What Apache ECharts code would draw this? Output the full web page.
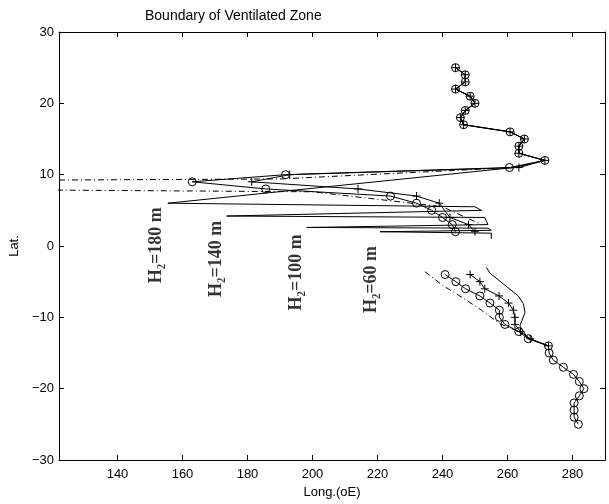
<!DOCTYPE html>
<html>
<head>
<meta charset="utf-8">
<script src="https://cdn.jsdelivr.net/npm/echarts@6/dist/echarts.min.js"></script>
<style>
  html, body { margin: 0; padding: 0; background: #fff; }
  #chart { width: 609px; height: 504px; }
</style>
</head>
<body>
<div id="chart"></div>
<script>
// tick labels
const xTicks = [140, 160, 180, 200, 220, 240, 260, 280];
const yTicks = [-30, -20, -10, 0, 10, 20, 30];

// shared northern track (lat 25 -> 12)
const northLon = [244, 247, 247, 244, 248.5, 250, 247, 245.5, 246.5, 260.8, 265.2, 263.5, 263.5, 271.5];
const northLat = [25, 24, 23, 22, 21, 20, 19, 18, 17, 16, 15, 14, 13, 12];

// circle track: westward loop, then southern branch
const circLoopLon = [260.6, 191.7, 163, 185.6, 224, 232, 236.7, 240, 243, 244];
const circLoopLat = [11, 10, 9, 8, 7, 6, 5, 4, 3, 2];
const circSouthLon = [240.8, 244.1, 247.1, 251.5, 254.6, 257.5, 257.5, 259.2, 263.5, 266.4, 272.6, 272.8, 274.1, 277.2, 280.3, 282.1, 283.5, 282.1, 280.5, 280.5, 280.5, 281.8];
const circSouthLat = [-4, -5, -6, -7, -8, -9, -10, -11, -12, -13, -14, -15, -16, -17, -18, -19, -20, -21, -22, -23, -24, -25];

// plus track
const plusLoopLon = [263.5, 193, 181.3, 214, 232, 239, 242.3, 248, 250];
const plusLoopLat = [11, 10, 9, 8, 7, 6, 4, 3, 2];
const plusSouthLon = [248.5, 251.5, 253, 257.4, 260.3, 261.8, 262.3, 262.3, 264, 267, 272.6];
const plusSouthLat = [-4, -5, -6, -7, -8, -9, -10, -11, -12, -13, -14];

// solid H2 curves (no markers)
const solidLon = [271.5, 262, 155.5, 250, 252, 173.6, 253, 254, 198.2, 254, 255, 220.8, 255, 255];
const solidLat = [12, 11, 6, 5.5, 5, 4.2, 4, 3, 2.6, 2.5, 2.2, 2, 1.8, 1];
const solidSouthLon = [253.5, 254.6, 263.3, 264.9, 265.4, 263.8, 266.4, 272.6];
const solidSouthLat = [-3, -3.8, -7, -8.1, -9.3, -11.2, -13, -14];

// dash-dot curve
const dashDotLon = [271.5, 262, 190, 100, 100, 200, 240, 252];
const dashDotLat = [12, 11, 9.4, 9.2, 7.9, 7.6, 5.5, 3];
const dashDotSouthLon = [234.6, 240, 246, 252, 257.7, 263.5];
const dashDotSouthLat = [-3.6, -5.5, -7.2, -9, -10.9, -12];

// curve labels
const labelText = ['H\u2082=180 m', 'H\u2082=140 m', 'H\u2082=100 m', 'H\u2082=60 m'];
const labelLon = [152, 170.5, 195, 218];
const labelLat = [0.1, -1.8, -3.7, -4.7];

const zip = (xs, ys) => xs.map((x, i) => [x, ys[i]]);
const join = (a, b) => a.concat([['-', '-']], b);

const plusPath = 'path://M0,-1L0,1M-1,0L1,0';

const chart = echarts.init(document.getElementById('chart'), null, { renderer: 'canvas' });

const axisCommon = {
  type: 'value',
  axisLine: { show: true, onZero: false, lineStyle: { color: '#000', width: 1 } },
  axisTick: { show: true, inside: true, length: 5, lineStyle: { color: '#000' } },
  splitLine: { show: false }
};

chart.setOption({
  animation: false,
  backgroundColor: '#fff',
  title: {
    text: 'Boundary of Ventilated Zone',
    left: 140, top: 4,
    textStyle: { fontFamily: 'Liberation Sans', fontSize: 14, fontWeight: 'normal', color: '#000' }
  },
  grid: { left: 59, right: 4, top: 32, bottom: 44 },
  xAxis: [
    Object.assign({}, axisCommon, {
      min: 122, max: 290, position: 'bottom',
      name: 'Long.(oE)', nameLocation: 'middle', nameGap: 24,
      nameTextStyle: { fontFamily: 'Liberation Sans', fontSize: 13, color: '#000' },
      axisTick: Object.assign({}, axisCommon.axisTick, { customValues: xTicks }),
      axisLabel: { customValues: xTicks, margin: 8, fontFamily: 'Liberation Sans', fontSize: 13, color: '#000' }
    }),
    Object.assign({}, axisCommon, {
      min: 122, max: 290, position: 'top',
      axisTick: Object.assign({}, axisCommon.axisTick, { customValues: xTicks }),
      axisLabel: { show: false }
    })
  ],
  yAxis: [
    Object.assign({}, axisCommon, {
      min: -30, max: 30, interval: 10, position: 'left',
      name: 'Lat.', nameLocation: 'middle', nameGap: 32, nameRotate: 90,
      nameTextStyle: { fontFamily: 'Liberation Sans', fontSize: 13, color: '#000' },
      axisLabel: {
        margin: 5, fontFamily: 'Liberation Sans', fontSize: 13, color: '#000',
        formatter: v => (v < 0 ? '\u2212' + Math.abs(v) : String(v))
      }
    }),
    Object.assign({}, axisCommon, {
      min: -30, max: 30, interval: 10, position: 'right',
      axisLabel: { show: false }
    })
  ],
  series: [
    {
      name: 'solid', type: 'line', symbol: 'none', color: '#000',
      data: join(zip(northLon, northLat).concat(zip(solidLon, solidLat)), zip(solidSouthLon, solidSouthLat)),
      lineStyle: { color: '#000', width: 1 }, z: 2
    },
    {
      name: 'dashdot', type: 'line', symbol: 'none', color: '#000',
      data: join(zip(dashDotLon, dashDotLat), zip(dashDotSouthLon, dashDotSouthLat)),
      lineStyle: { color: '#000', width: 1, type: [6, 3, 1, 3] }, z: 2
    },
    {
      name: 'plus', type: 'line', symbol: plusPath, symbolSize: 8, color: '#000',
      itemStyle: { color: '#000', borderColor: '#000', borderWidth: 1 },
      data: join(zip(northLon, northLat).concat(zip(plusLoopLon, plusLoopLat)), zip(plusSouthLon, plusSouthLat)),
      lineStyle: { color: '#000', width: 1 }, z: 3
    },
    {
      name: 'circle', type: 'line', symbol: 'circle', symbolSize: 8, color: '#000',
      itemStyle: { color: 'rgba(0,0,0,0)', borderColor: '#000', borderWidth: 1 },
      data: join(zip(northLon, northLat).concat(zip(circLoopLon, circLoopLat)), zip(circSouthLon, circSouthLat)),
      lineStyle: { color: '#000', width: 1 }, z: 4
    },
    {
      name: 'labels', type: 'scatter', symbol: 'circle', symbolSize: 2, silent: true,
      itemStyle: { color: 'rgba(255,255,255,0)' },
      data: labelText.map((t, i) => ({ value: [labelLon[i], labelLat[i]], name: t })),
      label: {
        show: true, formatter: p => p.name, rotate: 90, position: 'inside',
        fontFamily: 'Liberation Serif', fontWeight: 'bold', fontSize: 18, color: '#000'
      },
      labelLayout: { hideOverlap: false }, z: 5
    }
  ]
});
</script>
</body>
</html>
